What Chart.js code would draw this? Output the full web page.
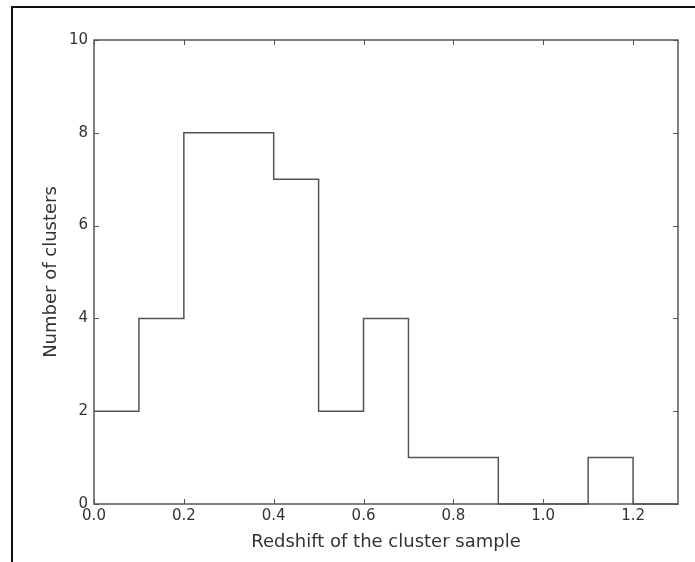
<!DOCTYPE html>
<html>
<head>
<meta charset="utf-8">
<script src="https://cdn.jsdelivr.net/npm/chart.js@4"></script>
<style>
html,body{margin:0;padding:0;background:#fff;}
#wrap{width:695px;height:562px;position:relative;}
</style>
</head>
<body>
<div id="wrap"><canvas id="c" width="695" height="562"></canvas></div>
<script>
// Histogram bin edges and counts (step histogram)
const binEdges = [0.0, 0.1, 0.2, 0.3, 0.4, 0.5, 0.6, 0.7, 0.8, 0.9, 1.0, 1.1, 1.2, 1.3];
const counts   = [2, 4, 8, 8, 7, 2, 4, 1, 1, 0, 0, 1, 0];
const xTickValues = [0.0, 0.2, 0.4, 0.6, 0.8, 1.0, 1.2];
const yTickValues = [0, 2, 4, 6, 8, 10];
const xTitle = 'Redshift of the cluster sample';
const yTitle = 'Number of clusters';

const points = binEdges.map((e, i) => ({x: e, y: counts[Math.min(i, counts.length - 1)]}));

const lineColor = '#555';
const textColor = '#333';
const fontFamily = '"DejaVu Sans", sans-serif';

const framePlugin = {
  id: 'frame',
  beforeDraw(chart) {
    const ctx = chart.ctx;
    ctx.save();
    ctx.fillStyle = '#fff';
    ctx.fillRect(0, 0, chart.width, chart.height);
    // outer image border (top and left)
    ctx.strokeStyle = '#111';
    ctx.lineWidth = 2;
    ctx.beginPath();
    ctx.moveTo(12, chart.height);
    ctx.lineTo(12, 7);
    ctx.lineTo(chart.width, 7);
    ctx.stroke();
    ctx.restore();
  },
  afterDatasetsDraw(chart) {
    const ctx = chart.ctx;
    const a = chart.chartArea;
    const xs = chart.scales.x, ys = chart.scales.y;
    ctx.save();
    ctx.strokeStyle = lineColor;
    ctx.lineWidth = 1.5;
    ctx.strokeRect(a.left, a.top, a.right - a.left, a.bottom - a.top);
    ctx.lineWidth = 1;
    const L = 5;
    ctx.beginPath();
    xs.ticks.forEach(t => {
      const px = Math.round(xs.getPixelForValue(t.value)) + 0.5;
      ctx.moveTo(px, a.bottom); ctx.lineTo(px, a.bottom - L);
      ctx.moveTo(px, a.top); ctx.lineTo(px, a.top + L);
    });
    ys.ticks.forEach(t => {
      const py = Math.round(ys.getPixelForValue(t.value)) + 0.5;
      ctx.moveTo(a.left, py); ctx.lineTo(a.left + L, py);
      ctx.moveTo(a.right, py); ctx.lineTo(a.right - L, py);
    });
    ctx.stroke();
    ctx.restore();
  }
};

new Chart(document.getElementById('c'), {
  type: 'line',
  data: {
    datasets: [{
      data: points,
      stepped: 'before',
      borderColor: lineColor,
      borderWidth: 1.5,
      pointRadius: 0,
      fill: false,
      clip: false
    }]
  },
  options: {
    responsive: false,
    animation: false,
    layout: {padding: {left: 0, top: 40, right: 17, bottom: 0}},
    plugins: {legend: {display: false}, tooltip: {enabled: false}},
    scales: {
      x: {
        type: 'linear',
        min: 0, max: 1.3,
        afterBuildTicks: s => { s.ticks = xTickValues.map(v => ({value: v})); },
        afterFit: s => { s.height = 58; },
        grid: {display: false, drawTicks: false},
        border: {display: false},
        ticks: {
          padding: 3,
          color: textColor,
          font: {family: fontFamily, size: 15},
          maxRotation: 0,
          callback: v => Number(v).toFixed(1)
        },
        title: {
          display: true, text: xTitle, color: textColor,
          font: {family: fontFamily, size: 18},
          padding: {top: 0, bottom: 9}
        }
      },
      y: {
        type: 'linear',
        min: 0, max: 10,
        afterBuildTicks: s => { s.ticks = yTickValues.map(v => ({value: v})); },
        afterFit: s => { s.width = 94; },
        grid: {display: false, drawTicks: false},
        border: {display: false},
        ticks: {
          padding: 6,
          color: textColor,
          font: {family: fontFamily, size: 15},
          callback: v => String(v)
        },
        title: {
          display: true, text: yTitle, color: textColor,
          font: {family: fontFamily, size: 18},
          padding: {top: 41, bottom: 0}
        }
      }
    }
  },
  plugins: [framePlugin]
});
</script>
</body>
</html>
